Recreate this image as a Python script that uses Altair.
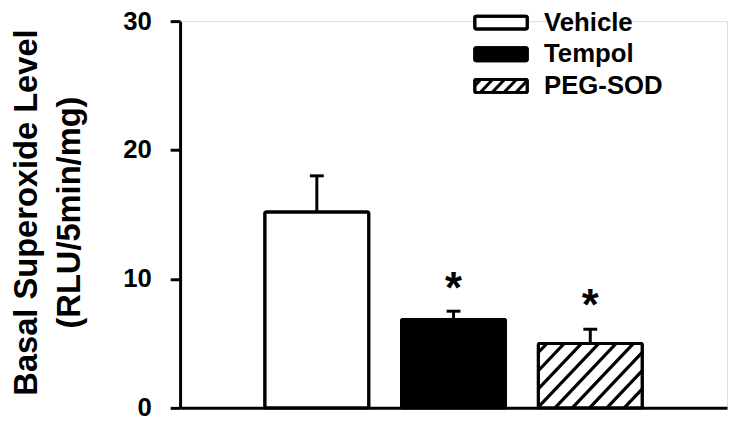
import altair as alt
import pandas as pd

# ---- data ----
groups = ["Vehicle", "Tempol", "PEG-SOD"]
means = [15.2, 6.85, 5.0]
sems = [2.8, 0.65, 1.1]
fills = ["#ffffff", "#000000", "#ffffff"]
hatched = [False, False, True]
star_groups = ["Tempol", "PEG-SOD"]
star_levels = [10.0, 8.65]
y_ticks = [0, 10, 20, 30]
title_lines = ["Basal Superoxide Level", "(RLU/5min/mg)"]

# ---- layout ----
W, H = 553, 391
X_MAX, Y_MAX = 4, 30
PX_X = W / X_MAX
PX_Y = H / Y_MAX
BAR_HALF = 0.38
CAP_HALF = 7 / PX_X
FONT = "Liberation Sans"

xs = alt.Scale(domain=[0, X_MAX], nice=False, zero=False)
ys = alt.Scale(domain=[0, Y_MAX], nice=False)

pos = {g: i + 1 for i, g in enumerate(groups)}
bars = pd.DataFrame({"group": groups, "mean": means, "sem": sems, "fill": fills, "hatched": hatched})
bars["pos"] = bars["group"].map(pos)
bars["x0"] = bars["pos"] - BAR_HALF
bars["x1"] = bars["pos"] + BAR_HALF
bars["c0"] = bars["pos"] - CAP_HALF
bars["c1"] = bars["pos"] + CAP_HALF
bars["upper"] = bars["mean"] + bars["sem"]
bars["zero"] = 0.0


def hatch(xl, xr, hgt, spacing, slope):
    """segments (x_a, h_a, x_b, h_b) in pixels, h measured upward from bottom"""
    segs = []
    c = xl - slope * hgt + spacing * 0.5
    while c < xr:
        lo = max(0.0, (xl - c) / slope)
        hi = min(hgt, (xr - c) / slope)
        if hi > lo:
            segs.append((c + slope * lo, lo, c + slope * hi, hi))
        c += spacing
    return segs


rows = []
for _, r in bars[bars["hatched"]].iterrows():
    for xa, ha, xb, hb in hatch(r["x0"] * PX_X, r["x1"] * PX_X, r["mean"] * PX_Y, 17.5, 0.95):
        rows.append({"xa": xa / PX_X, "ya": ha / PX_Y, "xb": xb / PX_X, "yb": hb / PX_Y})
hatch_df = pd.DataFrame(rows)

stars = pd.DataFrame({"group": star_groups, "y": star_levels, "t": ["*"] * len(star_groups)})
stars["pos"] = stars["group"].map(pos)

y_axis = alt.Axis(
    values=y_ticks, grid=False, domainWidth=3, tickWidth=3, tickSize=10,
    domainColor="black", tickColor="black", labelColor="black",
    labelFont=FONT, labelFontSize=26, labelFontWeight="bold", labelPadding=19,
    title=title_lines, titleFont=FONT, titleFontSize=33, titleFontWeight="bold",
    titleColor="black", titleX=-145, titleY=193, titleAngle=270,
    titleBaseline="alphabetic", titleAlign="center", titleLineHeight=43,
)
x_axis = alt.Axis(labels=False, ticks=False, grid=False, title=None,
                  domainWidth=3, domainColor="black", values=[])

base = alt.Chart(bars)

bar_fill = base.mark_rect(stroke="black", strokeWidth=3, cornerRadius=1.5).encode(
    x=alt.X("x0:Q", scale=xs, axis=x_axis),
    x2="x1:Q",
    y=alt.Y("zero:Q", scale=ys, axis=y_axis),
    y2="mean:Q",
    fill=alt.Fill("fill:N", scale=None),
)

hatch_layer = alt.Chart(hatch_df).mark_rule(strokeWidth=3.2, color="black").encode(
    x=alt.X("xa:Q", scale=xs), x2="xb:Q",
    y=alt.Y("ya:Q", scale=ys), y2="yb:Q",
)

bar_outline = base.mark_rect(stroke="black", strokeWidth=3, fillOpacity=0, cornerRadius=1.5).encode(
    x=alt.X("x0:Q", scale=xs), x2="x1:Q",
    y=alt.Y("zero:Q", scale=ys), y2="mean:Q",
)

err_stem = base.mark_rule(strokeWidth=3, color="black").encode(
    x=alt.X("pos:Q", scale=xs), y=alt.Y("mean:Q", scale=ys), y2="upper:Q",
)
err_cap = base.mark_rule(strokeWidth=3, color="black").encode(
    x=alt.X("c0:Q", scale=xs), x2="c1:Q", y=alt.Y("upper:Q", scale=ys),
)

star_layer = alt.Chart(stars).mark_text(
    font=FONT, fontSize=44, fontWeight="bold", color="black",
    baseline="alphabetic", align="center", dy=24,
).encode(x=alt.X("pos:Q", scale=xs), y=alt.Y("y:Q", scale=ys), text="t:N")

# ---- legend drawn by hand (pixel coordinates inside the plot area) ----
LEG_X0, LEG_X1 = 298, 351
LEG_TOP, LEG_STEP, LEG_H = -5, 32, 13
leg = pd.DataFrame({"group": groups, "fill": fills, "hatched": hatched})
leg["top"] = [LEG_TOP + LEG_STEP * i for i in range(len(groups))]
leg["bot"] = leg["top"] + LEG_H
leg["mid"] = leg["top"] + LEG_H / 2
leg["bx0"] = LEG_X0
leg["bx1"] = LEG_X1
leg["tx"] = LEG_X1 + 17

lrows = []
for _, r in leg[leg["hatched"]].iterrows():
    for xa, ha, xb, hb in hatch(LEG_X0, LEG_X1, LEG_H, 12, 0.95):
        lrows.append({"xa": xa, "ya": r["bot"] - ha, "xb": xb, "yb": r["bot"] - hb})
leg_hatch_df = pd.DataFrame(lrows)

lbase = alt.Chart(leg)
leg_box = lbase.mark_rect(stroke="black", strokeWidth=3, cornerRadius=1.5).encode(
    x=alt.X("bx0:Q", scale=None), x2="bx1:Q",
    y=alt.Y("top:Q", scale=None), y2="bot:Q",
    fill=alt.Fill("fill:N", scale=None),
)
leg_hatch = alt.Chart(leg_hatch_df).mark_rule(strokeWidth=3, color="black").encode(
    x=alt.X("xa:Q", scale=None), x2="xb:Q",
    y=alt.Y("ya:Q", scale=None), y2="yb:Q",
)
leg_outline = lbase.mark_rect(stroke="black", strokeWidth=3, fillOpacity=0, cornerRadius=1.5).encode(
    x=alt.X("bx0:Q", scale=None), x2="bx1:Q",
    y=alt.Y("top:Q", scale=None), y2="bot:Q",
)
leg_text = lbase.mark_text(
    font=FONT, fontSize=26, fontWeight="bold", color="black",
    align="left", baseline="middle",
).encode(x=alt.X("tx:Q", scale=None), y=alt.Y("mid:Q", scale=None), text="group:N")

chart = alt.layer(
    bar_fill, hatch_layer, bar_outline, err_stem, err_cap, star_layer,
    leg_box, leg_hatch, leg_outline, leg_text,
).properties(
    width=W, height=H,
    autosize=alt.AutoSizeParams(type="none"),
    padding={"left": 174, "top": 11, "right": 2, "bottom": 12},
).configure_view(stroke=None).configure(background="white")

chart.save("out.html", embed_options={"renderer": "svg", "actions": False})
